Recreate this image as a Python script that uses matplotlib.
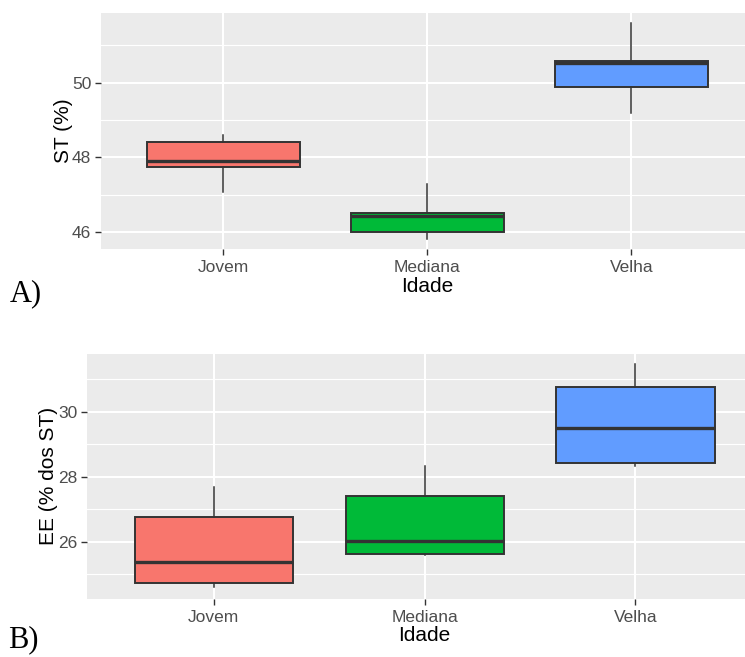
import matplotlib
matplotlib.use("Agg")
import matplotlib.pyplot as plt

# Age groups and fill colours (ggplot default hue palette)
grupos = ["Jovem", "Mediana", "Velha"]
cores = ["#F8766D", "#00BA38", "#619CFF"]

# ST (%) box statistics: lower whisker, Q1, median, Q3, upper whisker
st_whislo = [47.07, 45.83, 49.18]
st_q1 = [47.73, 46.00, 49.89]
st_med = [47.89, 46.44, 50.53]
st_q3 = [48.41, 46.52, 50.57]
st_whishi = [48.61, 47.30, 51.58]

# EE (% dos ST) box statistics
ee_whislo = [24.62, 25.59, 28.33]
ee_q1 = [24.74, 25.64, 28.43]
ee_med = [25.38, 26.02, 29.51]
ee_q3 = [26.75, 27.40, 30.75]
ee_whishi = [27.70, 28.34, 31.46]

st_ticks = [46, 48, 50]
st_minor = [47, 49, 51]
ee_ticks = [26, 28, 30]
ee_minor = [25, 27, 29, 31]

plt.rcParams["font.family"] = ["Liberation Sans", "DejaVu Sans"]

W, H = 745, 657
fig = plt.figure(figsize=(W / 100, H / 100), dpi=100)


def painel(rect, lo, q1, med, q3, hi, ticks, minor, ylim, ylabel, ylabelpad):
    ax = fig.add_axes(rect)
    ax.set_facecolor("#EBEBEB")
    for s in ax.spines.values():
        s.set_visible(False)
    stats = []
    for i in range(3):
        stats.append(dict(whislo=lo[i], q1=q1[i], med=med[i], q3=q3[i],
                          whishi=hi[i], fliers=[]))
    b = ax.bxp(stats, positions=[1, 2, 3], widths=0.75, patch_artist=True,
               showcaps=False, showfliers=False,
               boxprops=dict(edgecolor="#333333", linewidth=1.4),
               whiskerprops=dict(color="#333333", linewidth=1.1),
               medianprops=dict(color="#333333", linewidth=2.4),
               zorder=3)
    for patch, c in zip(b["boxes"], cores):
        patch.set_facecolor(c)
    ax.set_xlim(0.4, 3.6)
    ax.set_ylim(*ylim)
    ax.set_yticks(ticks)
    ax.set_yticks(minor, minor=True)
    ax.set_xticks([1, 2, 3])
    ax.set_xticklabels(grupos)
    ax.grid(True, which="major", color="white", linewidth=1.5, zorder=0)
    ax.grid(True, which="minor", axis="y", color="white", linewidth=0.8, zorder=0)
    ax.set_axisbelow(True)
    ax.tick_params(axis="both", which="major", length=4, width=1.0,
                   color="#333333", labelsize=12.5, labelcolor="#4D4D4D", pad=3)
    ax.tick_params(axis="x", which="major", pad=4)
    ax.tick_params(axis="both", which="minor", length=0)
    ax.set_xlabel("Idade", fontsize=15, color="black", labelpad=1)
    ax.set_ylabel(ylabel, fontsize=15, color="black", labelpad=ylabelpad)
    return ax


axA = painel([101 / W, 1 - 249 / H, (753.7 - 101) / W, 236 / H],
             st_whislo, st_q1, st_med, st_q3, st_whishi,
             st_ticks, st_minor, (45.55, 51.86), "ST (%)", -1)
axB = painel([87.3 / W, 1 - 598.7 / H, (762 - 87.3) / W, 244.7 / H],
             ee_whislo, ee_q1, ee_med, ee_q3, ee_whishi,
             ee_ticks, ee_minor, (24.25, 31.78), "EE (% dos ST)", 0)

fig.text(10 / W, 1 - 294 / H, "A)", fontsize=22, family="Liberation Serif",
         ha="left", va="center")
fig.text(8 / W, 1 - 640 / H, "B)", fontsize=22, family="Liberation Serif",
         ha="left", va="center")

fig.savefig("out.png", dpi=100)
